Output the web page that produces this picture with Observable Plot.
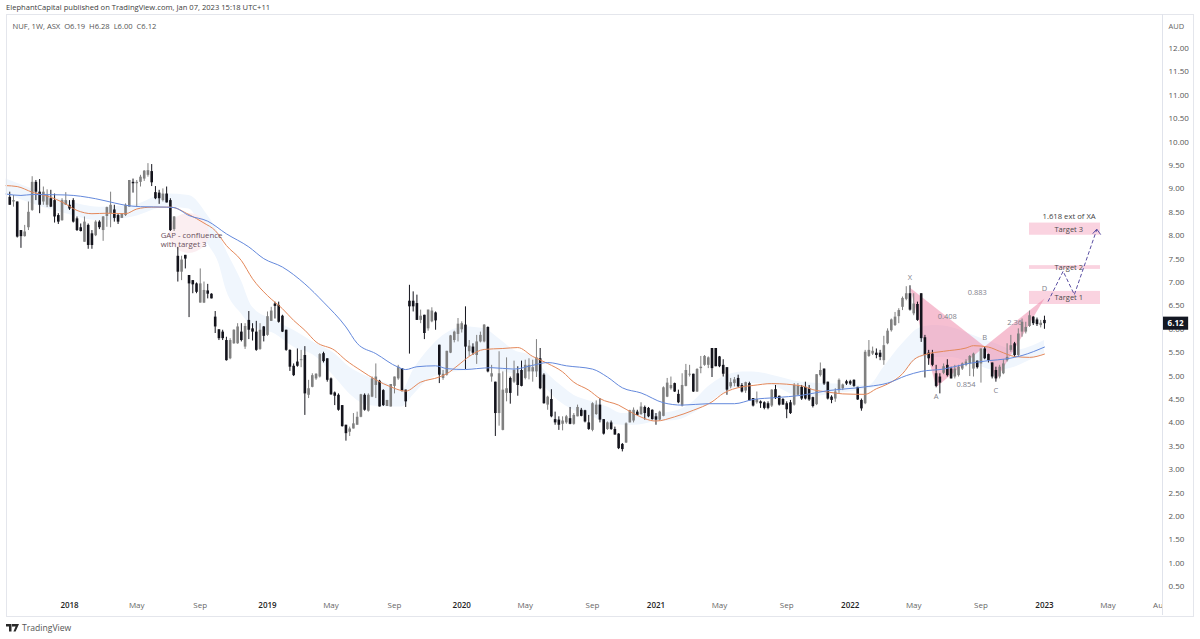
<!DOCTYPE html>
<html>
<head>
<meta charset="utf-8">
<script src="https://cdn.jsdelivr.net/npm/d3@7"></script>
<script src="https://cdn.jsdelivr.net/npm/@observablehq/plot@0.6"></script>
<style>
  html, body { margin: 0; padding: 0; background: #fff; width: 1200px; height: 639px; overflow: hidden; font-family: "Open Sans", sans-serif; }
  #head { height: 14px; line-height: 14px; padding-left: 6px; font-size: 7.6px; color: #3d3d3d; white-space: nowrap; }
  #chart { position: relative; height: 602px; }
  #chart svg { display: block; }
  #border { position: absolute; left: 6px; top: 0; width: 1186px; height: 601px; border: 1px solid #e4e6ec; pointer-events: none; }
  #corner { position: absolute; left: 1162px; top: 585px; width: 30px; height: 16px; background: #fff; border-left: 1px solid #e0e3eb; }
  #foot { height: 23px; padding-left: 6px; display: flex; align-items: center; gap: 3px; font-size: 8.6px; color: #555; }
</style>
</head>
<body>
<div id="head">ElephantCapital published on TradingView.com, Jan 07, 2023 15:18 UTC+11</div>
<div id="chart"><div id="border"></div></div>
<div id="foot">
  <svg width="13" height="8" viewBox="0 0 13 8"><path d="M0 0h5.5v7.6H3V2.6H0zM6 0h7l-3.4 7.6H7.4L9.6 2.6H7.6A1.2 1.2 0 0 1 6 1.4z" fill="#2a2a2a"/></svg>
  <span>TradingView</span>
</div>
<script>
const firstWeek = -16;
const highs = [8.93,8.86,8.72,8.11,8.22,8.72,9.26,9.18,9.20,9.04,
8.98,8.97,8.89,8.47,8.79,8.92,8.75,8.79,8.40,8.25,
8.40,8.25,8.11,8.32,8.32,8.41,8.61,8.93,8.65,8.47,
8.47,8.68,9.18,9.21,9.18,9.29,9.39,9.54,9.52,9.05,
8.97,9.00,9.04,8.79,8.41,7.75,7.56,7.58,7.15,7.04,
6.99,7.29,7.01,6.96,6.76,6.38,5.99,5.98,5.83,5.80,
5.99,6.12,6.12,6.12,6.38,6.12,6.17,6.12,6.06,6.37,
6.47,6.58,6.58,6.30,5.98,5.56,5.26,5.58,5.55,5.63,
4.91,5.05,5.05,5.48,5.51,5.37,4.96,4.66,4.62,4.37,
3.95,3.91,4.20,4.23,4.61,4.62,4.62,4.98,5.26,4.91,
4.71,4.48,4.82,4.98,5.23,
5.16,4.70,6.94,6.80,6.73,
6.41,6.30,6.41,6.46,6.37,5.66,5.12,5.53,5.87,5.96,
6.23,6.16,6.48,5.76,5.69,5.87,5.94,6.10,6.05,5.23,
4.87,5.52,5.09,5.39,4.98,5.32,5.20,5.32,5.34,5.37,
5.34,5.78,5.59,5.05,4.57,4.71,4.23,4.13,4.13,4.16,
4.33,4.20,4.38,4.31,4.27,4.16,4.43,4.47,4.52,4.07,
4.02,4.04,3.91,3.77,3.56,4.00,4.27,4.32,4.27,4.43,
4.36,4.33,4.28,4.20,4.25,4.77,4.95,4.98,4.85,4.70,
5.05,5.25,5.23,5.04,5.16,5.42,5.44,5.41,5.59,5.59,
5.42,5.35,5.18,4.95,4.97,5.02,4.84,4.87,4.87,4.52,
4.66,4.47,4.45,4.45,4.71,4.80,4.57,4.52,4.45,4.48,
4.84,4.84,
4.80,4.87,4.80,4.55,5.03,5.28,5.15,4.87,4.58,4.73,
4.94,4.83,4.91,4.91,4.92,4.76,4.51,5.55,5.76,5.62,
5.58,5.55,5.85,6.01,6.22,6.36,6.44,6.69,6.91,6.93,
6.76,6.58,6.76,5.87,5.55,5.55,5.23,5.05,5.26,5.35,
5.19,5.23,5.23,5.28,5.35,5.44,5.49,5.32,5.58,5.62,
5.47,5.28,5.19,5.23,5.35,5.69,5.87,5.72,6.01,6.22,
6.15,6.39,6.27,6.24,6.19,6.28];
const bodyTops = [8.82,8.75,8.72,8.11,8.08,8.50,9.14,9.14,8.93,8.93,
8.86,8.79,8.75,8.43,8.75,8.75,8.65,8.75,8.36,8.17,
8.29,8.22,8.04,8.29,8.29,8.40,8.60,8.65,8.55,8.43,
8.47,8.65,9.18,9.14,9.14,9.25,9.38,9.39,9.37,8.92,
8.91,8.89,8.89,8.75,8.40,7.56,7.48,7.58,7.15,7.04,
6.97,6.97,6.83,6.82,6.75,6.26,5.99,5.94,5.76,5.76,
5.98,6.05,5.94,6.06,6.19,6.01,5.94,5.98,6.05,6.27,
6.39,6.54,6.51,6.28,5.98,5.55,5.21,5.30,5.35,5.44,
4.73,5.01,5.04,5.46,5.48,5.37,4.94,4.64,4.59,4.37,
3.95,3.87,3.98,4.12,4.60,4.59,4.59,4.94,4.98,4.89,
4.69,4.48,4.82,4.98,5.19,
5.16,4.70,6.60,6.60,6.55,
6.28,6.30,6.41,6.39,6.35,5.66,5.04,5.53,5.86,5.94,
6.11,6.12,6.09,5.64,5.62,5.73,5.87,6.09,6.04,5.05,
4.87,5.05,4.70,4.73,4.95,5.12,5.05,5.12,5.23,5.23,
5.18,5.39,5.37,5.02,4.55,4.50,4.07,4.06,4.04,4.13,
4.09,4.16,4.33,4.27,4.26,4.00,4.41,4.38,4.38,4.07,
4.00,4.00,3.86,3.76,3.54,3.98,4.26,4.27,4.23,4.34,
4.33,4.31,4.27,4.13,4.23,4.75,4.85,4.80,4.84,4.61,
4.80,5.12,5.04,5.04,5.14,5.19,5.42,5.39,5.59,5.59,
5.41,5.23,5.18,4.86,4.92,4.95,4.80,4.86,4.84,4.52,
4.50,4.45,4.43,4.41,4.70,4.71,4.57,4.50,4.41,4.43,
4.80,4.78,
4.76,4.76,4.73,4.54,5.03,5.12,5.15,4.87,4.55,4.66,
4.91,4.81,4.88,4.88,4.91,4.76,4.48,5.51,5.55,5.53,
5.49,5.49,5.65,5.96,6.20,6.26,6.40,6.66,6.76,6.76,
6.54,6.53,6.76,5.82,5.49,5.47,5.05,4.98,5.20,5.23,
5.15,5.15,5.19,5.26,5.30,5.42,5.47,5.32,5.58,5.58,
5.46,5.28,5.12,5.19,5.26,5.40,5.65,5.69,5.90,6.15,
6.04,6.29,6.26,6.20,6.13,6.19];
const bodyBottoms = [8.65,8.72,7.97,7.98,7.98,8.17,8.54,8.93,8.65,8.72,
8.65,8.61,8.40,8.29,8.32,8.65,8.57,8.29,8.11,8.09,
7.86,7.79,7.79,8.00,8.17,8.11,8.41,8.47,8.37,8.29,
8.37,8.43,8.61,9.11,9.11,9.14,9.21,9.29,9.13,8.79,
8.79,8.75,8.70,8.11,8.13,7.22,7.22,7.50,6.97,6.95,
6.79,6.56,6.56,6.75,6.65,6.05,5.80,5.80,5.33,5.37,
5.69,5.69,5.76,5.62,5.98,5.94,5.55,5.57,5.85,5.87,
6.17,6.49,6.15,5.94,5.55,5.19,5.01,5.21,5.33,4.62,
4.59,4.76,4.94,4.98,5.31,4.91,4.60,4.57,4.27,3.92,
3.77,3.80,3.87,3.95,4.12,4.27,4.25,4.55,4.80,4.34,
4.37,4.35,4.34,4.78,4.94,
4.68,4.45,6.48,6.48,6.19,
6.19,5.91,6.01,6.16,6.18,5.02,4.95,5.02,5.49,5.76,
5.89,5.99,5.62,5.52,5.49,5.44,5.73,5.73,5.09,4.98,
4.20,4.20,3.84,4.63,4.63,4.87,4.80,4.78,4.95,5.09,
5.09,5.09,4.73,4.41,4.38,4.13,4.00,3.95,3.97,4.00,
3.97,3.97,4.13,4.14,4.02,3.86,3.84,4.18,4.06,3.76,
3.86,3.86,3.74,3.45,3.43,3.57,4.00,4.04,4.16,4.18,
4.20,4.13,4.07,4.06,4.06,4.14,4.55,4.73,4.66,4.43,
4.36,4.78,5.02,4.66,4.66,5.16,5.23,5.23,5.16,5.20,
5.20,5.04,4.70,4.77,4.84,4.77,4.66,4.68,4.47,4.36,
4.43,4.41,4.31,4.31,4.36,4.52,4.38,4.38,4.28,4.20,
4.38,4.59,
4.51,4.51,4.49,4.35,4.39,5.01,4.83,4.51,4.48,4.51,
4.69,4.73,4.83,4.83,4.78,4.49,4.30,4.41,5.42,5.47,
5.44,5.40,5.33,5.69,5.97,6.08,6.27,6.47,6.64,6.41,
6.33,6.19,5.80,5.44,5.37,5.23,4.78,4.85,5.06,5.01,
4.94,4.98,5.01,5.15,5.23,5.26,5.15,5.18,5.26,5.37,
5.33,4.98,4.94,4.98,5.05,5.33,5.55,5.44,5.44,5.94,
5.94,6.06,6.12,6.10,6.08,6.12];
const lows = [8.65,8.61,7.95,7.73,7.97,8.11,8.52,8.75,8.47,8.65,
8.60,8.60,8.27,8.24,8.31,8.65,8.54,8.27,8.09,8.08,
7.86,7.71,7.71,7.98,8.13,7.88,8.18,8.17,8.29,8.24,
8.37,8.41,8.61,8.91,8.61,9.04,9.16,9.25,9.05,8.77,
8.67,8.72,8.70,8.09,8.09,7.01,7.04,7.29,6.25,6.76,
6.76,6.56,6.55,6.65,6.65,5.91,5.76,5.76,5.32,5.35,
5.68,5.68,5.73,5.57,5.78,5.75,5.53,5.55,5.73,5.85,
6.17,6.22,6.13,5.93,5.53,5.10,4.99,5.19,5.18,4.16,
4.52,4.75,4.91,4.96,5.28,4.87,4.59,4.37,4.25,3.91,
3.61,3.71,3.87,3.95,4.11,4.25,4.23,4.54,4.52,4.34,
4.35,4.35,4.34,4.62,4.91,
4.66,4.33,5.47,6.37,6.19,
6.12,5.78,5.96,6.14,5.98,4.84,4.91,5.00,5.48,5.71,
5.73,5.92,5.14,5.42,5.44,5.25,5.71,5.71,5.07,4.87,
3.71,3.93,3.83,4.45,4.40,4.84,4.57,4.77,4.92,4.92,
4.87,4.97,4.71,4.40,4.27,4.11,3.95,3.84,3.83,3.97,
3.96,3.95,4.13,4.13,4.00,3.84,3.81,4.16,4.00,3.74,
3.84,3.84,3.74,3.43,3.38,3.56,4.00,4.00,4.16,4.16,
4.06,4.11,4.06,3.95,4.04,4.13,4.54,4.70,4.65,4.41,
4.34,4.77,4.98,4.65,4.65,5.05,5.21,5.16,4.97,5.20,
5.18,4.98,4.59,4.73,4.77,4.75,4.64,4.63,4.47,4.34,
4.40,4.31,4.28,4.28,4.33,4.50,4.36,4.38,4.09,4.18,
4.36,4.59,
4.48,4.49,4.46,4.32,4.37,4.98,4.80,4.49,4.41,4.44,
4.63,4.69,4.80,4.80,4.76,4.48,4.25,4.39,5.40,5.44,
5.37,5.33,5.23,5.67,5.94,6.06,6.12,6.40,6.61,6.39,
6.29,6.17,5.72,4.96,5.23,5.20,4.75,4.62,5.03,4.98,
4.94,4.94,4.98,5.12,5.20,4.99,4.98,5.15,4.85,5.35,
5.28,4.94,4.87,4.94,5.03,5.30,5.51,5.40,5.40,5.83,
5.90,6.04,6.08,6.06,6.03,6.00];
const directions = ("BGBBGGGBBG"+"GBBBGGBBBB"+"GBBGBGGGBB"+"GGGBGGGGBB"+"BGBBGBGBBB"+"BGGBBBBBBG"+"GGBGBBBGBG"+"GBBBBBBBGB"+"GGGGBBBBBB"+"BGGGGBGGGB"+"BGGGG"+"BBBBB"+"GBGGBBGGGG"+"GGBGBGGGBG"+"BGGGBGBBGG"+"GGBBGBBBGG"+"BGGBBBGGBB"+"GBBBBGGGBG"+"BBBBGGGGBB"+"GGGBGGGGBB"+"BBBGGBBGBB"+"GBBBGBBBBB"+"GG"+"BBBBGGBBBG"+"GGBBBBBGGG"+"BBGGGGGGGB"+"GBBBBBBBGB"+"BGGGGGGBGB"+"BBBGGGGBGG"+"GGBBGB").split("");

const orangeWeeks = [-17,-14,-10,-5,-2,2,6,10,15,18,22,27,32,36,39,42,46,49,53,57,60,63,66,71,74,78,82,86,89,90,94,99,101,104,107,111,116,120,124,128,132,135,139,142,147,151,157,162,167,172,175,180,183,188,196,199,203,207,213,216,219,223,226,229,234,240,242,246,249,253,257,261];
const orangeValues = [9.07,9.05,8.93,8.82,8.72,8.54,8.47,8.48,8.47,8.57,8.61,8.61,8.45,8.27,8.11,7.79,7.47,7.08,6.72,6.44,6.19,5.98,5.73,5.55,5.34,5.12,4.92,4.77,4.69,4.68,4.87,4.98,5.05,5.23,5.42,5.57,5.59,5.61,5.42,5.27,5.09,4.87,4.70,4.52,4.38,4.20,4.04,4.13,4.27,4.45,4.63,4.77,4.80,4.84,4.79,4.71,4.66,4.62,4.61,4.73,4.83,5.05,5.35,5.46,5.53,5.60,5.65,5.62,5.53,5.42,5.40,5.47];
const blueWeeks = [-17,-13,-10,-1,7,12,15,19,26,28,32,37,42,48,52,57,63,68,74,77,82,88,90,93,98,101,106,109,113,119,124,128,133,140,144,148,153,159,164,171,178,183,189,196,203,211,214,219,224,228,234,240,246,251,255,261];
const blueValues = [8.89,8.86,8.88,8.87,8.79,8.70,8.65,8.62,8.61,8.60,8.43,8.31,8.04,7.76,7.51,7.33,6.97,6.58,6.05,5.70,5.48,5.19,5.14,5.20,5.22,5.16,5.14,5.16,5.18,5.15,5.23,5.29,5.22,5.15,4.98,4.75,4.64,4.43,4.38,4.41,4.41,4.50,4.54,4.59,4.69,4.75,4.78,4.85,5.01,5.10,5.15,5.26,5.33,5.37,5.44,5.62];
const bandWeeks = [-17,-10,-1,8,17,26,32,37,40,42,46,49,55,60,66,71,75,80,85,89,92,96,99,106,111,115,119,124,128,132,135,140,144,148,151,157,163,167,171,175,180,183,188,196,205,214,218,223,228,232,236,242,248,253,258,261];
const bandTops = [9.21,9.00,8.75,8.61,8.65,8.89,8.86,8.43,8.04,7.68,7.04,6.47,6.19,5.98,5.69,5.48,5.19,4.98,4.84,4.69,5.12,5.55,5.80,6.05,6.01,5.80,5.55,5.41,5.05,4.77,4.59,4.45,4.34,4.20,4.20,4.20,4.27,4.45,4.77,4.98,5.09,5.09,5.02,4.87,4.83,4.80,5.19,5.69,6.04,6.08,6.04,5.87,5.69,5.55,5.65,5.76];
const bandBottoms = [8.89,8.68,8.47,8.32,8.40,8.61,8.57,7.83,7.40,6.83,6.33,6.05,5.90,5.62,5.41,4.98,4.62,4.37,4.34,4.34,4.59,4.91,5.02,5.12,5.20,5.12,5.05,5.09,4.70,4.41,4.27,4.13,3.98,3.95,3.95,4.02,4.06,4.20,4.41,4.63,4.80,4.84,4.80,4.55,4.62,4.73,4.80,5.05,5.40,5.40,5.40,5.26,5.12,5.19,5.37,5.47];

const triangle1Weeks = [225, 232, 245, 225];
const triangle1Values = [6.89, 4.76, 5.63, 6.89];
const triangle2Weeks = [245, 248, 261, 245];
const triangle2Values = [5.63, 4.91, 6.66, 5.63];
const projectionWeeks = [262, 266, 269, 275];
const projectionValues = [6.60, 7.24, 6.74, 8.13];
const arrowWeeks = [274, 275, 276];
const arrowValues = [8.05, 8.14, 8.03];

const targetNames = ["Target 1", "Target 2", "Target 3"];
const targetTops = [6.81, 7.36, 8.27];
const targetBottoms = [6.53, 7.28, 8.01];
const targetFromWeek = 257;
const targetToWeek = 276;

const patternLabels = ["X", "A", "B", "C", "D", "0.883", "0.408", "0.854", "2.36"];
const patternWeeks = [225, 232, 245, 248, 261, 243, 235, 240, 253];
const patternValues = [7.10, 4.56, 5.82, 4.69, 6.87, 6.79, 6.28, 4.81, 6.15];

const priceTicks = [12,11.5,11,10.5,10,9.5,9,8.5,8,7.5,7,6.5,6,5.5,5,4.5,4,3.5,3,2.5,2,1.5,1,0.5];
const yearTicks = ["2018-01-01","2019-01-07","2020-01-06","2021-01-04","2022-01-03","2023-01-02"];
const monthTicks = ["2018-05-07","2018-09-03","2019-05-06","2019-09-02","2020-05-04","2020-09-07","2021-05-03","2021-09-06","2022-05-02","2022-09-05","2023-05-01","2023-08-07"];

const lastPrice = 6.12;
const weekDate = w => new Date(Date.UTC(2018, 0, 1) + w * 7 * 864e5);

const candles = highs.map((h, i) => ({
  date: weekDate(firstWeek + i), high: h, low: lows[i],
  top: bodyTops[i], bottom: bodyBottoms[i], colour: directions[i] === "G" ? "#808080" : "#14141c"
}));
const series = (ws, vs) => ws.map((w, i) => ({date: weekDate(w), value: vs[i]}));
const band = bandWeeks.map((w, i) => ({date: weekDate(w), top: bandTops[i], bottom: bandBottoms[i]}));
const targets = targetNames.map((n, i) => ({name: n, top: targetTops[i], bottom: targetBottoms[i],
  x1: weekDate(targetFromWeek), x2: weekDate(targetToWeek), mid: weekDate(267.5), y: (targetTops[i] + targetBottoms[i]) / 2}));
const pattern = patternLabels.map((t, i) => ({text: t, date: weekDate(patternWeeks[i]), value: patternValues[i]}));

const chart = Plot.plot({
  width: 1200, height: 602,
  marginLeft: 6, marginRight: 38, marginTop: 1, marginBottom: 18,
  style: {fontFamily: '"Open Sans", sans-serif', fontSize: "8px", background: "#fff"},
  x: {type: "utc", domain: [weekDate(-16.87), weekDate(292.6)]},
  y: {domain: [0.248, 12.705]},
  marks: [
    Plot.areaY(band, {x: "date", y1: "top", y2: "bottom", fill: "#f0f6fd", curve: "monotone-x"}),
    Plot.dot([{date: weekDate(31.9), value: 8.06}], {x: "date", y: "value", r: 20, fill: "#fbeef1", stroke: "none"}),
    Plot.rect(targets, {x1: "x1", x2: "x2", y1: "bottom", y2: "top", fill: "#fad3e0"}),
    Plot.line(series(triangle1Weeks, triangle1Values), {x: "date", y: "value", fill: "#ee7fa4", fillOpacity: 0.5, stroke: "none"}),
    Plot.line(series(triangle2Weeks, triangle2Values), {x: "date", y: "value", fill: "#ee7fa4", fillOpacity: 0.5, stroke: "none"}),
    Plot.ruleX(candles, {x: "date", y1: "low", y2: "high", stroke: "colour", strokeWidth: 1}),
    Plot.ruleX(candles, {x: "date", y1: "bottom", y2: "top", stroke: "colour", strokeWidth: 2.6}),
    Plot.line(series(orangeWeeks, orangeValues), {x: "date", y: "value", stroke: "#e4885a", strokeWidth: 1, curve: "monotone-x"}),
    Plot.line(series(blueWeeks, blueValues), {x: "date", y: "value", stroke: "#6489dc", strokeWidth: 1, curve: "monotone-x"}),
    Plot.line(series(projectionWeeks, projectionValues), {x: "date", y: "value", stroke: "#5a4fa3", strokeWidth: 1, strokeDasharray: "3,3"}),
    Plot.line(series(arrowWeeks, arrowValues), {x: "date", y: "value", stroke: "#5a4fa3", strokeWidth: 1}),
    Plot.text(targets, {x: "mid", y: "y", text: "name", fill: "#4a4a4a", fontSize: 7.5}),
    Plot.text(pattern, {x: "date", y: "value", text: "text", fill: "#7f828c", fontSize: 7.5}),
    Plot.text([{date: weekDate(267.6), value: 8.41}], {x: "date", y: "value", text: () => "1.618 ext of XA", fill: "#444", fontSize: 7.7}),
    Plot.text([{date: weekDate(24.4), value: 8.00, t: "GAP - confluence"}, {date: weekDate(24.4), value: 7.82, t: "with target 3"}],
      {x: "date", y: "value", text: "t", textAnchor: "start", fill: "#6a4f5c", fontSize: 7.8}),
    Plot.text(["NUF, 1W, ASX  O6.19  H6.28  L6.00  C6.12"], {frameAnchor: "top-left", dx: 6, dy: 8, fill: "#555", fontSize: 7.6}),
    Plot.text(["AUD"], {frameAnchor: "top-right", textAnchor: "start", dx: 6, dy: 8, fill: "#666", fontSize: 7.5}),
    Plot.axisX({ticks: monthTicks.map(d => new Date(d)), tickFormat: d3.utcFormat("%b"), tickSize: 0, tickPadding: 4, fill: "#666", fontSize: 8, label: null}),
    Plot.axisX({ticks: yearTicks.map(d => new Date(d)), tickFormat: d3.utcFormat("%Y"), tickSize: 0, tickPadding: 4, fill: "#222", fontSize: 8, fontWeight: 600, label: null}),
    Plot.axisY({anchor: "right", ticks: priceTicks, tickFormat: d => d.toFixed(2), tickSize: 0, tickPadding: 6, fill: "#555", fontSize: 8, label: null}),
    Plot.rect([{v: lastPrice}], {x1: () => weekDate(292.7), x2: () => weekDate(299.6), y1: d => d.v - 0.14, y2: d => d.v + 0.14, fill: "#131722"}),
    Plot.text([{v: lastPrice}], {x: () => weekDate(296.1), y: "v", text: d => d.v.toFixed(2), fill: "#fff", fontWeight: 700, fontSize: 8})
  ]
});
const host = document.getElementById("chart");
host.insertBefore(chart, host.firstChild);
const corner = document.createElement("div");
corner.id = "corner";
host.appendChild(corner);
const sep = document.createElement("div");
sep.style.cssText = "position:absolute;left:1162px;top:0;width:1px;height:601px;background:#e0e3eb";
host.appendChild(sep);
</script>
</body>
</html>
